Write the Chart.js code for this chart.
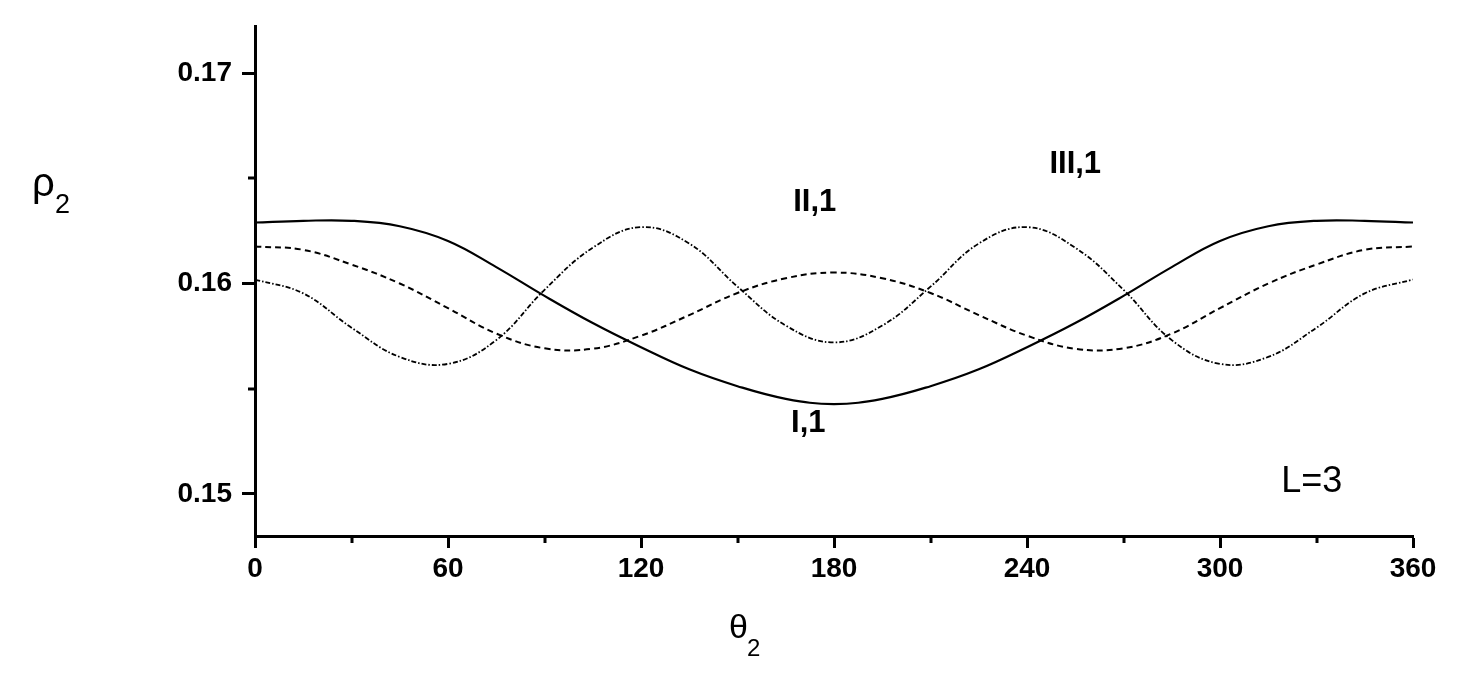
<!DOCTYPE html>
<html>
<head>
<meta charset="utf-8">
<script src="https://cdn.jsdelivr.net/npm/chart.js@4.4.1/dist/chart.umd.min.js"></script>
<style>
    body { margin: 0; background: #fff; }
</style>
</head>
<body>
<canvas id="lineChart" width="1469" height="690"></canvas>
<script>

var theta = [0, 15, 30, 45, 60, 75, 90, 105, 120, 135, 150, 165, 180,
    195, 210, 225, 240, 255, 270, 285, 300, 315, 330, 345, 360];

var rhoI = [0.16290, 0.16298, 0.16298, 0.16272, 0.16202, 0.16078, 0.15941, 0.15812, 0.15697,
    0.15592, 0.15512, 0.15452, 0.15427, 0.15452, 0.15512, 0.15592, 0.15697, 0.15812,
    0.15941, 0.16078, 0.16202, 0.16272, 0.16298, 0.16298, 0.16290];

var rhoII = [0.16176, 0.16160, 0.16090, 0.16000, 0.15883, 0.15762, 0.15692, 0.15690, 0.15752,
    0.15850, 0.15955, 0.16025, 0.16052, 0.16025, 0.15955, 0.15850, 0.15752, 0.15690,
    0.15692, 0.15762, 0.15883, 0.16000, 0.16090, 0.16160, 0.16176];

var rhoIII = [0.16019, 0.15953, 0.15790, 0.15651, 0.15618, 0.15731, 0.15970, 0.16170, 0.16268,
    0.16190, 0.15985, 0.15800, 0.15720, 0.15800, 0.15985, 0.16190, 0.16268, 0.16170,
    0.15970, 0.15731, 0.15618, 0.15651, 0.15790, 0.15953, 0.16019];

var xTicks = [0, 30, 60, 90, 120, 150, 180, 210, 240, 270, 300, 330, 360];
var xTickLabels = ['0', '60', '120', '180', '240', '300', '360'];
var yTicks = [0.15, 0.155, 0.16, 0.165, 0.17];
var yTickLabels = ['0.15', '0.16', '0.17'];

var curveNames = ['I,1', 'II,1', 'III,1'];
var noteText = 'L=3';

function points(values) {
    var out = [];
    for (var i = 0; i < theta.length; i++) {
        out.push({ x: theta[i], y: values[i] });
    }
    return out;
}

function xLabel(v) {
    var s = String(v);
    return xTickLabels.indexOf(s) >= 0 ? s : '';
}

function yLabel(v) {
    var s = v.toFixed(3).replace(/0$/, '');
    return yTickLabels.indexOf(s) >= 0 ? s : '';
}

var FONT = '"Liberation Sans", Arial, sans-serif';

// minor ticks are shorter, so the library draws the major ones and this plugin the rest
var extras = {
    id: 'extras',
    afterDraw: function(chart) {
        var ctx = chart.ctx;
        var xs = chart.scales.x;
        var ys = chart.scales.y;
        var area = chart.chartArea;

        ctx.save();
        ctx.strokeStyle = '#000';
        ctx.lineWidth = 3;
        ctx.beginPath();
        xTicks.forEach(function(v) {
            if (xLabel(v) === '') {
                var px = Math.round(xs.getPixelForValue(v));
                ctx.moveTo(px, area.bottom);
                ctx.lineTo(px, area.bottom + 7);
            }
        });
        yTicks.forEach(function(v) {
            if (yLabel(v) === '') {
                var py = Math.round(ys.getPixelForValue(v));
                ctx.moveTo(area.left - 7, py);
                ctx.lineTo(area.left, py);
            }
        });
        ctx.stroke();

        ctx.fillStyle = '#000';
        ctx.textAlign = 'center';
        ctx.textBaseline = 'middle';
        ctx.font = 'bold 31px ' + FONT;
        ctx.fillText(curveNames[0], xs.getPixelForValue(172), ys.getPixelForValue(0.15336));
        ctx.fillText(curveNames[1], xs.getPixelForValue(174), ys.getPixelForValue(0.16386));
        ctx.fillText(curveNames[2], xs.getPixelForValue(255), ys.getPixelForValue(0.16565));
        ctx.font = '36px ' + FONT;
        ctx.fillText(noteText, xs.getPixelForValue(328.5), ys.getPixelForValue(0.15054));

        // axis titles with subscripts
        ctx.textAlign = 'left';
        ctx.textBaseline = 'alphabetic';
        ctx.font = '40px ' + FONT;
        ctx.fillText('\u03c1', 32, 196);
        ctx.font = '27px ' + FONT;
        ctx.fillText('2', 55, 213);
        ctx.font = '34px ' + FONT;
        ctx.fillText('\u03b8', 729, 638);
        ctx.font = '24px ' + FONT;
        ctx.fillText('2', 747, 656);
        ctx.restore();
    }
};

var chart = new Chart(document.getElementById('lineChart'), {
    type: 'line',
    data: {
        datasets: [{
            label: curveNames[0],
            data: points(rhoI),
            borderColor: '#000',
            borderWidth: 2.2
        }, {
            label: curveNames[1],
            data: points(rhoII),
            borderColor: '#000',
            borderWidth: 2,
            borderDash: [6, 4]
        }, {
            label: curveNames[2],
            data: points(rhoIII),
            borderColor: '#000',
            borderWidth: 1.8,
            borderDash: [5, 2, 1.5, 2]
        }]
    },
    options: {
        responsive: false,
        animation: false,
        layout: { padding: { top: 22, right: 56, left: 0, bottom: 0 } },
        elements: {
            point: { radius: 0 },
            line: { tension: 0.4, fill: false }
        },
        plugins: {
            legend: { display: false },
            tooltip: { enabled: false }
        },
        scales: {
            x: {
                type: 'linear',
                min: 0,
                max: 360,
                afterBuildTicks: function(scale) {
                    scale.ticks = xTicks.map(function(v) { return { value: v }; });
                },
                afterFit: function(scale) { scale.height = 154; },
                border: { display: true, color: '#000', width: 3 },
                grid: {
                    drawOnChartArea: false,
                    tickLength: 12,
                    tickWidth: 3,
                    tickColor: function(c) {
                        return c.tick && xLabel(c.tick.value) !== '' ? '#000' : 'rgba(0,0,0,0)';
                    }
                },
                ticks: {
                    autoSkip: false,
                    maxRotation: 0,
                    padding: 4,
                    color: '#000',
                    font: { family: FONT, size: 28, weight: 'bold' },
                    callback: function(v) { return xLabel(v); }
                }
            },
            y: {
                min: 0.148,
                max: 0.1722,
                afterBuildTicks: function(scale) {
                    scale.ticks = yTicks.map(function(v) { return { value: v }; });
                },
                afterFit: function(scale) { scale.width = 255; },
                border: { display: true, color: '#000', width: 3 },
                grid: {
                    drawOnChartArea: false,
                    tickLength: 13,
                    tickWidth: 3,
                    tickColor: function(c) {
                        return c.tick && yLabel(c.tick.value) !== '' ? '#000' : 'rgba(0,0,0,0)';
                    }
                },
                ticks: {
                    autoSkip: false,
                    padding: 10,
                    color: '#000',
                    font: { family: FONT, size: 28, weight: 'bold' },
                    callback: function(v) { return yLabel(v); }
                }
            }
        }
    },
    plugins: [extras]
});
</script>
</body>
</html>
